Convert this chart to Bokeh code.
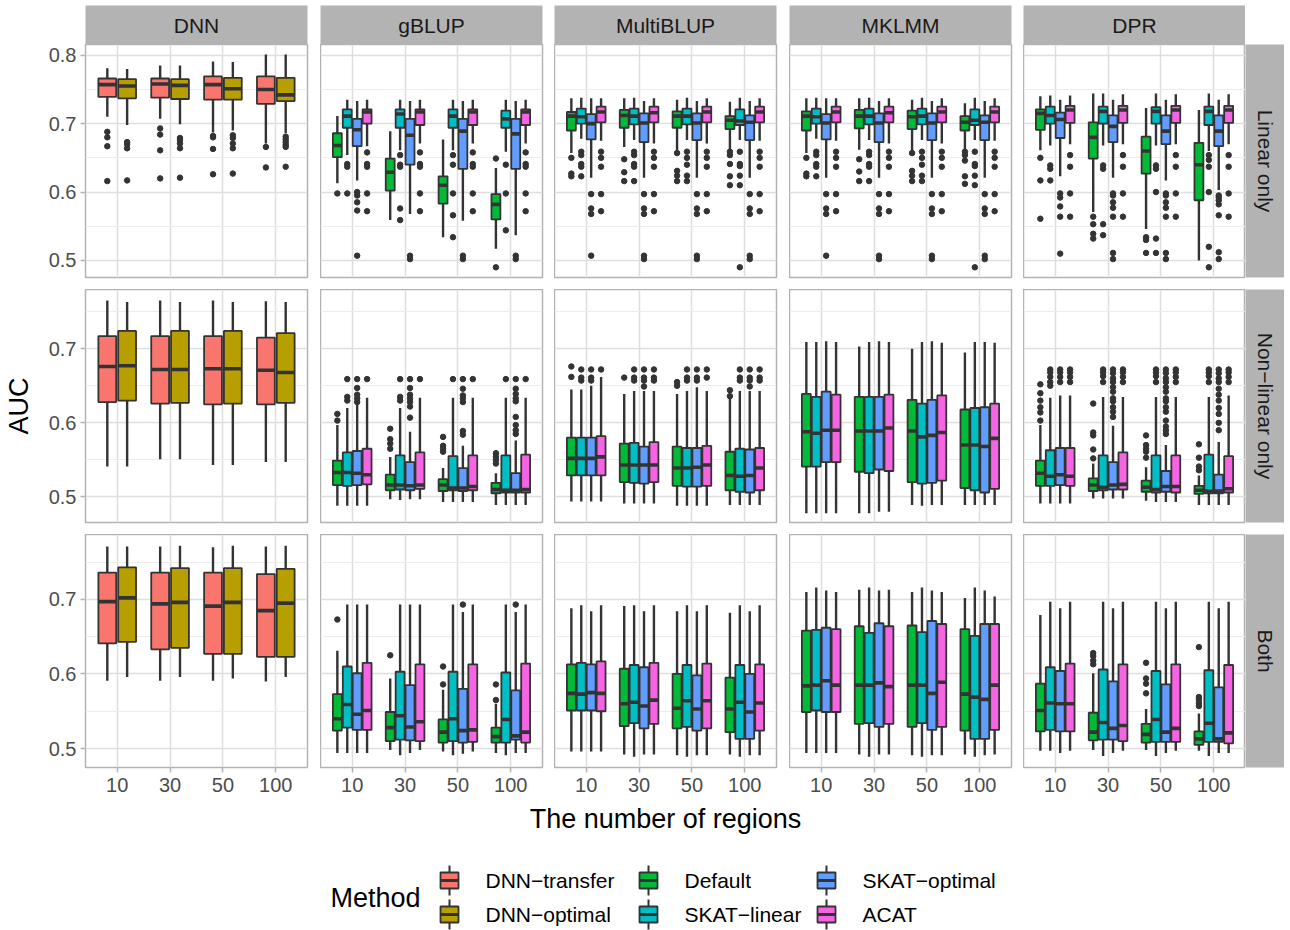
import math
from bokeh.plotting import figure
from bokeh.models import Range1d, FixedTicker, GridBox, Label, ColumnDataSource
from bokeh.layouts import column
from bokeh.core.properties import value
from bokeh.embed import file_html
from bokeh.resources import INLINE

FONT = "Liberation Sans"
MINUS = "\u2212"

# ---------------- categories / labels ----------------
REGIONS = ["10", "30", "50", "100"]
MODELS = ["DNN", "gBLUP", "MultiBLUP", "MKLMM", "DPR"]
SCENARIOS = ["Linear only", f"Non{MINUS}linear only", "Both"]
DNN_METHODS = [f"DNN{MINUS}transfer", f"DNN{MINUS}optimal"]
SKAT_METHODS = ["Default", f"SKAT{MINUS}linear", f"SKAT{MINUS}optimal", "ACAT"]
LEGEND_ORDER = DNN_METHODS + SKAT_METHODS
METHOD_COLORS = ["#F8766D", "#B79F00", "#00BA38", "#00BFC4", "#619CFF", "#F564E3"]
X_TITLE = "The number of regions"
Y_TITLE = "AUC"
LEGEND_TITLE = "Method"
Y_TICKS = [[0.5, 0.6, 0.7, 0.8], [0.5, 0.6, 0.7], [0.5, 0.6, 0.7]]
Y_MINOR = [[0.55, 0.65, 0.75], [0.55, 0.65, 0.75], [0.55, 0.65, 0.75]]
Y_LIMITS = [(0.4751, 0.8157), (0.4655, 0.7799), (0.4746, 0.7870)]

# ---------------- box statistics: (lower whisker, q1, median, q3, upper whisker) per region ----------------
# Row: Linear only
L_DNN_TRANSFER = [(0.710, 0.739, 0.757, 0.766, 0.781), (0.707, 0.738, 0.758, 0.766, 0.785), (0.687, 0.735, 0.757, 0.769, 0.791), (0.671, 0.729, 0.750, 0.769, 0.801)]
L_DNN_TRANSFER_OUT = [[0.688, 0.680, 0.667, 0.616], [0.693, 0.684, 0.661, 0.620], [0.682, 0.680, 0.663, 0.626], [0.666, 0.636]]
L_DNN_OPTIMAL = [(0.698, 0.737, 0.755, 0.765, 0.780), (0.699, 0.736, 0.756, 0.765, 0.785), (0.690, 0.735, 0.751, 0.767, 0.790), (0.686, 0.733, 0.742, 0.767, 0.801)]
L_DNN_OPTIMAL_OUT = [[0.673, 0.670, 0.664, 0.617], [0.679, 0.676, 0.671, 0.664, 0.621], [0.683, 0.679, 0.671, 0.664, 0.627], [0.681, 0.677, 0.673, 0.669, 0.666, 0.637]]

L_GBLUP_DEF = [(0.613, 0.651, 0.668, 0.686, 0.711), (0.559, 0.602, 0.629, 0.649, 0.689), (0.534, 0.583, 0.610, 0.623, 0.677), (0.517, 0.560, 0.582, 0.597, 0.635)]
L_GBLUP_DEF_OUT = [[0.598], [], [], [0.649, 0.490]]
L_GBLUP_LIN = [(0.654, 0.694, 0.711, 0.721, 0.735), (0.661, 0.694, 0.714, 0.721, 0.735), (0.661, 0.694, 0.711, 0.721, 0.735), (0.659, 0.694, 0.707, 0.719, 0.735)]
L_GBLUP_LIN_OUT = [[0.641, 0.637, 0.598], [0.654, 0.640, 0.637, 0.576, 0.559], [0.654, 0.640, 0.598, 0.566, 0.534], [0.640, 0.598, 0.544]]
L_GBLUP_OPT = [(0.617, 0.667, 0.691, 0.707, 0.733), (0.568, 0.640, 0.683, 0.707, 0.733), (0.558, 0.634, 0.689, 0.707, 0.733), (0.537, 0.634, 0.685, 0.707, 0.733)]
L_GBLUP_OPT_OUT = [[0.600, 0.595, 0.585, 0.573, 0.507], [0.507, 0.502], [0.507, 0.502], [0.507, 0.502]]
L_GBLUP_ACAT = [(0.667, 0.700, 0.717, 0.721, 0.735), (0.671, 0.698, 0.717, 0.721, 0.735), (0.671, 0.698, 0.717, 0.721, 0.735), (0.671, 0.698, 0.717, 0.721, 0.735)]
L_GBLUP_ACAT_OUT = [[0.658, 0.641, 0.637, 0.598, 0.572], [0.658, 0.641, 0.637, 0.598, 0.572], [0.658, 0.641, 0.637, 0.598, 0.572], [0.658, 0.641, 0.637, 0.598, 0.572]]

L_MULTI_DEF = [(0.657, 0.690, 0.711, 0.717, 0.737), (0.666, 0.694, 0.712, 0.720, 0.737), (0.661, 0.694, 0.711, 0.718, 0.735), (0.661, 0.692, 0.705, 0.711, 0.732)]
L_MULTI_DEF_OUT = [[0.650, 0.627, 0.623], [0.648, 0.629, 0.616], [0.657, 0.631, 0.624, 0.616], [0.659, 0.654, 0.641, 0.623, 0.610]]
L_MULTI_LIN = [(0.678, 0.700, 0.710, 0.722, 0.738), (0.676, 0.699, 0.711, 0.722, 0.738), (0.676, 0.699, 0.711, 0.722, 0.738), (0.676, 0.698, 0.704, 0.721, 0.738)]
L_MULTI_LIN_OUT = [[0.659, 0.654, 0.641, 0.637, 0.623], [0.659, 0.654, 0.641, 0.637, 0.616], [0.659, 0.650, 0.640, 0.624, 0.616], [0.659, 0.641, 0.638, 0.624, 0.610, 0.490]]
L_MULTI_OPT = [(0.621, 0.677, 0.700, 0.714, 0.737), (0.621, 0.673, 0.701, 0.715, 0.733), (0.621, 0.676, 0.701, 0.715, 0.733), (0.621, 0.676, 0.702, 0.712, 0.733)]
L_MULTI_OPT_OUT = [[0.597, 0.576, 0.568, 0.507], [0.597, 0.576, 0.568, 0.507, 0.502], [0.597, 0.576, 0.568, 0.507, 0.502], [0.597, 0.576, 0.568, 0.507, 0.502]]
L_MULTI_ACAT = [(0.675, 0.702, 0.717, 0.725, 0.737), (0.671, 0.702, 0.716, 0.725, 0.737), (0.671, 0.702, 0.717, 0.725, 0.737), (0.675, 0.702, 0.717, 0.725, 0.737)]
L_MULTI_ACAT_OUT = [[0.659, 0.650, 0.637, 0.597, 0.572], [0.659, 0.650, 0.637, 0.597, 0.572], [0.659, 0.650, 0.637, 0.597, 0.572], [0.659, 0.650, 0.637, 0.597, 0.572]]

L_MKLMM_DEF = [(0.657, 0.690, 0.711, 0.718, 0.737), (0.662, 0.693, 0.711, 0.720, 0.737), (0.660, 0.692, 0.710, 0.719, 0.735), (0.660, 0.690, 0.702, 0.711, 0.730)]
L_MKLMM_DEF_OUT = [[0.650, 0.627, 0.623], [0.648, 0.630, 0.616], [0.657, 0.631, 0.624, 0.616], [0.659, 0.654, 0.646, 0.623, 0.612]]
L_MKLMM_LIN = [(0.678, 0.700, 0.710, 0.722, 0.738), (0.676, 0.699, 0.711, 0.722, 0.738), (0.676, 0.699, 0.711, 0.722, 0.738), (0.676, 0.698, 0.705, 0.721, 0.738)]
L_MKLMM_LIN_OUT = [[0.659, 0.654, 0.641, 0.637, 0.623], [0.659, 0.654, 0.641, 0.637, 0.616], [0.659, 0.650, 0.640, 0.624, 0.616], [0.659, 0.641, 0.638, 0.624, 0.610, 0.490]]
L_MKLMM_OPT = [(0.621, 0.677, 0.701, 0.714, 0.737), (0.621, 0.673, 0.701, 0.715, 0.733), (0.621, 0.676, 0.701, 0.715, 0.733), (0.621, 0.676, 0.702, 0.712, 0.733)]
L_MKLMM_OPT_OUT = [[0.597, 0.576, 0.568, 0.507], [0.597, 0.576, 0.568, 0.507, 0.502], [0.597, 0.576, 0.568, 0.507, 0.502], [0.597, 0.576, 0.568, 0.507, 0.502]]
L_MKLMM_ACAT = [(0.675, 0.702, 0.717, 0.725, 0.737), (0.671, 0.702, 0.716, 0.725, 0.737), (0.671, 0.702, 0.717, 0.725, 0.737), (0.675, 0.702, 0.717, 0.725, 0.737)]
L_MKLMM_ACAT_OUT = [[0.659, 0.650, 0.637, 0.597, 0.572], [0.659, 0.650, 0.637, 0.597, 0.572], [0.659, 0.650, 0.637, 0.597, 0.572], [0.659, 0.650, 0.637, 0.597, 0.572]]

L_DPR_DEF = [(0.661, 0.691, 0.715, 0.721, 0.740), (0.571, 0.649, 0.680, 0.702, 0.744), (0.546, 0.627, 0.660, 0.681, 0.723), (0.500, 0.588, 0.640, 0.672, 0.720)]
L_DPR_DEF_OUT = [[0.650, 0.617, 0.561], [0.564, 0.553, 0.539, 0.532], [0.534, 0.530, 0.511], []]
L_DPR_LIN = [(0.668, 0.700, 0.712, 0.725, 0.741), (0.668, 0.700, 0.718, 0.725, 0.744), (0.668, 0.700, 0.718, 0.724, 0.744), (0.660, 0.698, 0.718, 0.725, 0.744)]
L_DPR_LIN_OUT = [[0.639, 0.634, 0.617], [0.639, 0.634, 0.553, 0.537], [0.639, 0.634, 0.600, 0.532, 0.511], [0.654, 0.647, 0.637, 0.600, 0.520, 0.490]]
L_DPR_OPT = [(0.623, 0.679, 0.706, 0.716, 0.735), (0.621, 0.673, 0.696, 0.712, 0.735), (0.617, 0.670, 0.689, 0.712, 0.735), (0.603, 0.667, 0.689, 0.712, 0.735)]
L_DPR_OPT_OUT = [[0.598, 0.592, 0.579, 0.564, 0.510], [0.598, 0.595, 0.585, 0.577, 0.564, 0.511, 0.502], [0.598, 0.595, 0.585, 0.577, 0.564, 0.511, 0.502], [0.595, 0.592, 0.588, 0.582, 0.566, 0.512, 0.502]]
L_DPR_ACAT = [(0.670, 0.701, 0.720, 0.726, 0.741), (0.670, 0.701, 0.720, 0.726, 0.743), (0.670, 0.701, 0.720, 0.726, 0.743), (0.670, 0.701, 0.720, 0.726, 0.743)]
L_DPR_ACAT_OUT = [[0.654, 0.637, 0.598, 0.564], [0.654, 0.637, 0.598, 0.564], [0.654, 0.637, 0.598, 0.564], [0.654, 0.637, 0.598, 0.564]]

# Row: Non-linear only
N_DNN_TRANSFER = [(0.541, 0.628, 0.676, 0.717, 0.765), (0.551, 0.626, 0.672, 0.717, 0.765), (0.543, 0.625, 0.673, 0.717, 0.765), (0.547, 0.625, 0.671, 0.715, 0.764)]
N_DNN_OPTIMAL = [(0.541, 0.630, 0.677, 0.724, 0.763), (0.551, 0.627, 0.672, 0.724, 0.763), (0.543, 0.626, 0.673, 0.724, 0.763), (0.547, 0.627, 0.668, 0.721, 0.763)]

N_GBLUP_DEF = [(0.488, 0.516, 0.533, 0.549, 0.597), (0.497, 0.509, 0.516, 0.530, 0.554), (0.493, 0.508, 0.516, 0.524, 0.539), (0.489, 0.505, 0.510, 0.519, 0.532)]
N_GBLUP_DEF_OUT = [[0.612, 0.603], [0.592, 0.578, 0.572, 0.565], [0.581, 0.569, 0.565, 0.561], [0.559, 0.554, 0.550, 0.545]]
N_GBLUP_LIN = [(0.488, 0.515, 0.533, 0.560, 0.620), (0.496, 0.510, 0.516, 0.556, 0.620), (0.493, 0.509, 0.512, 0.555, 0.634), (0.489, 0.506, 0.509, 0.556, 0.634)]
N_GBLUP_LIN_OUT = [[0.659, 0.635, 0.630], [0.659, 0.635, 0.630], [0.659], [0.659]]
N_GBLUP_OPT = [(0.488, 0.516, 0.532, 0.562, 0.625), (0.497, 0.509, 0.515, 0.547, 0.588), (0.493, 0.508, 0.512, 0.539, 0.569), (0.489, 0.506, 0.509, 0.532, 0.576)]
N_GBLUP_OPT_OUT = [[0.659, 0.647, 0.638, 0.633, 0.628], [0.659, 0.647, 0.638, 0.633, 0.628, 0.622, 0.607], [0.659, 0.646, 0.637, 0.633, 0.628, 0.589, 0.584], [0.659, 0.646, 0.639, 0.633, 0.629, 0.608, 0.597, 0.590, 0.585]]
N_GBLUP_ACAT = [(0.488, 0.517, 0.530, 0.565, 0.634), (0.497, 0.511, 0.516, 0.560, 0.634), (0.493, 0.509, 0.514, 0.556, 0.634), (0.489, 0.506, 0.510, 0.557, 0.634)]
N_GBLUP_ACAT_OUT = [[0.659], [0.659], [0.659], [0.659]]

N_MULTI_DEF = [(0.494, 0.529, 0.552, 0.580, 0.645), (0.491, 0.520, 0.543, 0.572, 0.639), (0.488, 0.515, 0.539, 0.568, 0.639), (0.489, 0.509, 0.529, 0.561, 0.633)]
N_MULTI_DEF_OUT = [[0.676, 0.662], [0.661], [0.655, 0.650], [0.644, 0.636]]
N_MULTI_LIN = [(0.494, 0.529, 0.552, 0.580, 0.645), (0.491, 0.519, 0.543, 0.573, 0.643), (0.488, 0.514, 0.539, 0.566, 0.643), (0.489, 0.507, 0.528, 0.565, 0.643)]
N_MULTI_LIN_OUT = [[0.672, 0.661, 0.657], [0.672, 0.661, 0.657], [0.672, 0.661, 0.657], [0.672, 0.661, 0.657]]
N_MULTI_OPT = [(0.494, 0.529, 0.552, 0.580, 0.650), (0.491, 0.518, 0.543, 0.568, 0.643), (0.488, 0.514, 0.540, 0.566, 0.648), (0.489, 0.506, 0.529, 0.564, 0.643)]
N_MULTI_OPT_OUT = [[0.672, 0.661, 0.657], [0.672, 0.661, 0.657, 0.649], [0.672, 0.661, 0.657], [0.672, 0.661, 0.657, 0.649]]
N_MULTI_ACAT = [(0.494, 0.529, 0.554, 0.582, 0.662), (0.491, 0.520, 0.543, 0.574, 0.643), (0.488, 0.515, 0.543, 0.569, 0.643), (0.489, 0.509, 0.539, 0.566, 0.643)]
N_MULTI_ACAT_OUT = [[0.672], [0.672, 0.661, 0.657], [0.672, 0.661], [0.672, 0.661, 0.657]]

N_MKLMM_DEF = [(0.478, 0.541, 0.588, 0.639, 0.709), (0.478, 0.534, 0.589, 0.635, 0.703), (0.489, 0.520, 0.589, 0.631, 0.700), (0.489, 0.512, 0.570, 0.618, 0.695)]
N_MKLMM_LIN = [(0.478, 0.541, 0.586, 0.635, 0.709), (0.478, 0.532, 0.589, 0.635, 0.709), (0.488, 0.518, 0.581, 0.626, 0.709), (0.489, 0.509, 0.570, 0.620, 0.709)]
N_MKLMM_OPT = [(0.478, 0.547, 0.590, 0.642, 0.710), (0.480, 0.537, 0.589, 0.635, 0.710), (0.489, 0.519, 0.583, 0.631, 0.710), (0.489, 0.506, 0.568, 0.621, 0.709)]
N_MKLMM_ACAT = [(0.478, 0.547, 0.590, 0.638, 0.709), (0.480, 0.535, 0.593, 0.638, 0.709), (0.489, 0.522, 0.587, 0.637, 0.708), (0.489, 0.511, 0.579, 0.626, 0.708)]

N_DPR_DEF = [(0.491, 0.515, 0.532, 0.549, 0.597), (0.498, 0.508, 0.516, 0.525, 0.545), (0.495, 0.507, 0.513, 0.522, 0.540), (0.489, 0.504, 0.509, 0.515, 0.529)]
N_DPR_DEF_OUT = [[0.652, 0.640, 0.630, 0.621, 0.614, 0.603], [0.626, 0.587, 0.583, 0.564, 0.552], [0.583, 0.570, 0.565, 0.561, 0.553], [0.571, 0.553, 0.541, 0.536]]
N_DPR_LIN = [(0.491, 0.515, 0.528, 0.563, 0.634), (0.498, 0.509, 0.513, 0.556, 0.635), (0.493, 0.506, 0.510, 0.556, 0.635), (0.489, 0.505, 0.508, 0.557, 0.635)]
N_DPR_LIN_OUT = [[0.672, 0.668, 0.662, 0.655, 0.650], [0.672, 0.668, 0.663, 0.655], [0.672, 0.668, 0.663, 0.655], [0.672, 0.668, 0.663, 0.655]]
N_DPR_OPT = [(0.491, 0.516, 0.530, 0.566, 0.637), (0.498, 0.510, 0.516, 0.547, 0.596), (0.493, 0.507, 0.514, 0.535, 0.570), (0.489, 0.505, 0.508, 0.530, 0.574)]
N_DPR_OPT_OUT = [[0.672, 0.668, 0.662, 0.655], [0.672, 0.667, 0.660, 0.655, 0.648, 0.642, 0.633, 0.629, 0.621, 0.615, 0.608], [0.672, 0.667, 0.660, 0.655, 0.648, 0.642, 0.633, 0.629, 0.621, 0.615, 0.603, 0.595, 0.590, 0.585], [0.672, 0.667, 0.660, 0.655, 0.646, 0.638, 0.630, 0.620, 0.612, 0.600, 0.590]]
N_DPR_ACAT = [(0.491, 0.515, 0.528, 0.566, 0.637), (0.498, 0.510, 0.517, 0.560, 0.635), (0.493, 0.506, 0.514, 0.556, 0.635), (0.489, 0.506, 0.511, 0.555, 0.637)]
N_DPR_ACAT_OUT = [[0.672, 0.668, 0.662, 0.655], [0.672, 0.668, 0.662, 0.655], [0.672, 0.668, 0.662, 0.655], [0.672, 0.668, 0.662, 0.655]]

# Row: Both
B_DNN_TRANSFER = [(0.591, 0.641, 0.697, 0.736, 0.771), (0.591, 0.633, 0.694, 0.736, 0.771), (0.591, 0.627, 0.691, 0.736, 0.770), (0.590, 0.623, 0.685, 0.734, 0.771)]
B_DNN_OPTIMAL = [(0.596, 0.643, 0.702, 0.743, 0.771), (0.596, 0.635, 0.696, 0.742, 0.772), (0.594, 0.627, 0.696, 0.742, 0.772), (0.596, 0.623, 0.695, 0.741, 0.772)]

B_GBLUP_DEF = [(0.494, 0.524, 0.540, 0.573, 0.631), (0.498, 0.510, 0.528, 0.549, 0.594), (0.496, 0.508, 0.522, 0.539, 0.579), (0.494, 0.508, 0.516, 0.528, 0.560)]
B_GBLUP_DEF_OUT = [[0.673], [0.625], [0.610, 0.586], [0.586, 0.565]]
B_GBLUP_LIN = [(0.494, 0.528, 0.559, 0.610, 0.693), (0.491, 0.512, 0.544, 0.603, 0.693), (0.491, 0.510, 0.540, 0.603, 0.693), (0.491, 0.508, 0.539, 0.602, 0.693)]
B_GBLUP_OPT = [(0.494, 0.525, 0.546, 0.601, 0.693), (0.494, 0.511, 0.529, 0.585, 0.693), (0.493, 0.508, 0.524, 0.580, 0.683), (0.494, 0.512, 0.517, 0.578, 0.683)]
B_GBLUP_OPT_OUT = [[], [], [0.693], [0.693]]
B_GBLUP_ACAT = [(0.494, 0.525, 0.551, 0.615, 0.693), (0.498, 0.510, 0.536, 0.613, 0.693), (0.496, 0.509, 0.525, 0.613, 0.693), (0.494, 0.508, 0.522, 0.614, 0.693)]

B_MULTI_DEF = [(0.496, 0.551, 0.574, 0.613, 0.688), (0.492, 0.530, 0.560, 0.607, 0.691), (0.491, 0.527, 0.554, 0.600, 0.684), (0.492, 0.522, 0.553, 0.595, 0.682)]
B_MULTI_LIN = [(0.496, 0.551, 0.573, 0.615, 0.692), (0.489, 0.534, 0.562, 0.612, 0.692), (0.489, 0.529, 0.564, 0.612, 0.692), (0.489, 0.513, 0.562, 0.612, 0.692)]
B_MULTI_OPT = [(0.496, 0.551, 0.575, 0.613, 0.684), (0.492, 0.527, 0.557, 0.609, 0.684), (0.491, 0.524, 0.553, 0.598, 0.684), (0.491, 0.513, 0.549, 0.600, 0.684)]
B_MULTI_ACAT = [(0.496, 0.550, 0.574, 0.617, 0.692), (0.492, 0.533, 0.565, 0.615, 0.692), (0.491, 0.527, 0.564, 0.614, 0.692), (0.491, 0.524, 0.561, 0.613, 0.692)]

B_MKLMM_DEF = [(0.494, 0.549, 0.584, 0.658, 0.710), (0.492, 0.533, 0.585, 0.664, 0.713), (0.491, 0.529, 0.585, 0.665, 0.710), (0.492, 0.524, 0.573, 0.660, 0.702)]
B_MKLMM_LIN = [(0.494, 0.551, 0.585, 0.659, 0.716), (0.489, 0.534, 0.585, 0.655, 0.716), (0.489, 0.534, 0.585, 0.656, 0.716), (0.489, 0.513, 0.569, 0.651, 0.716)]
B_MKLMM_OPT = [(0.494, 0.549, 0.591, 0.662, 0.712), (0.492, 0.529, 0.588, 0.668, 0.712), (0.491, 0.525, 0.574, 0.671, 0.712), (0.491, 0.513, 0.566, 0.667, 0.712)]
B_MKLMM_ACAT = [(0.494, 0.549, 0.585, 0.660, 0.710), (0.492, 0.533, 0.583, 0.664, 0.713), (0.491, 0.529, 0.589, 0.667, 0.710), (0.492, 0.525, 0.585, 0.667, 0.704)]

B_DPR_DEF = [(0.497, 0.523, 0.551, 0.587, 0.679), (0.498, 0.511, 0.522, 0.548, 0.601), (0.498, 0.508, 0.519, 0.533, 0.553), (0.497, 0.505, 0.513, 0.523, 0.547)]
B_DPR_DEF_OUT = [[], [0.628, 0.624, 0.618, 0.613], [0.615, 0.594, 0.587, 0.574], [0.636, 0.569, 0.566, 0.561, 0.557]]
B_DPR_LIN = [(0.497, 0.525, 0.561, 0.609, 0.697), (0.490, 0.512, 0.535, 0.606, 0.697), (0.490, 0.509, 0.539, 0.604, 0.697), (0.490, 0.509, 0.534, 0.605, 0.697)]
B_DPR_OPT = [(0.494, 0.523, 0.560, 0.604, 0.688), (0.494, 0.512, 0.527, 0.590, 0.688), (0.494, 0.509, 0.522, 0.586, 0.688), (0.494, 0.509, 0.513, 0.582, 0.688)]
B_DPR_ACAT = [(0.497, 0.523, 0.560, 0.614, 0.697), (0.497, 0.510, 0.531, 0.613, 0.697), (0.497, 0.509, 0.527, 0.613, 0.697), (0.494, 0.507, 0.521, 0.612, 0.697)]

NONE4 = [[], [], [], []]

# table of panels: (row, col) -> list of (stats, outliers), in method order
PANELS = {
    (0, 0): [(L_DNN_TRANSFER, L_DNN_TRANSFER_OUT), (L_DNN_OPTIMAL, L_DNN_OPTIMAL_OUT)],
    (0, 1): [(L_GBLUP_DEF, L_GBLUP_DEF_OUT), (L_GBLUP_LIN, L_GBLUP_LIN_OUT), (L_GBLUP_OPT, L_GBLUP_OPT_OUT), (L_GBLUP_ACAT, L_GBLUP_ACAT_OUT)],
    (0, 2): [(L_MULTI_DEF, L_MULTI_DEF_OUT), (L_MULTI_LIN, L_MULTI_LIN_OUT), (L_MULTI_OPT, L_MULTI_OPT_OUT), (L_MULTI_ACAT, L_MULTI_ACAT_OUT)],
    (0, 3): [(L_MKLMM_DEF, L_MKLMM_DEF_OUT), (L_MKLMM_LIN, L_MKLMM_LIN_OUT), (L_MKLMM_OPT, L_MKLMM_OPT_OUT), (L_MKLMM_ACAT, L_MKLMM_ACAT_OUT)],
    (0, 4): [(L_DPR_DEF, L_DPR_DEF_OUT), (L_DPR_LIN, L_DPR_LIN_OUT), (L_DPR_OPT, L_DPR_OPT_OUT), (L_DPR_ACAT, L_DPR_ACAT_OUT)],
    (1, 0): [(N_DNN_TRANSFER, NONE4), (N_DNN_OPTIMAL, NONE4)],
    (1, 1): [(N_GBLUP_DEF, N_GBLUP_DEF_OUT), (N_GBLUP_LIN, N_GBLUP_LIN_OUT), (N_GBLUP_OPT, N_GBLUP_OPT_OUT), (N_GBLUP_ACAT, N_GBLUP_ACAT_OUT)],
    (1, 2): [(N_MULTI_DEF, N_MULTI_DEF_OUT), (N_MULTI_LIN, N_MULTI_LIN_OUT), (N_MULTI_OPT, N_MULTI_OPT_OUT), (N_MULTI_ACAT, N_MULTI_ACAT_OUT)],
    (1, 3): [(N_MKLMM_DEF, NONE4), (N_MKLMM_LIN, NONE4), (N_MKLMM_OPT, NONE4), (N_MKLMM_ACAT, NONE4)],
    (1, 4): [(N_DPR_DEF, N_DPR_DEF_OUT), (N_DPR_LIN, N_DPR_LIN_OUT), (N_DPR_OPT, N_DPR_OPT_OUT), (N_DPR_ACAT, N_DPR_ACAT_OUT)],
    (2, 0): [(B_DNN_TRANSFER, NONE4), (B_DNN_OPTIMAL, NONE4)],
    (2, 1): [(B_GBLUP_DEF, B_GBLUP_DEF_OUT), (B_GBLUP_LIN, NONE4), (B_GBLUP_OPT, B_GBLUP_OPT_OUT), (B_GBLUP_ACAT, NONE4)],
    (2, 2): [(B_MULTI_DEF, NONE4), (B_MULTI_LIN, NONE4), (B_MULTI_OPT, NONE4), (B_MULTI_ACAT, NONE4)],
    (2, 3): [(B_MKLMM_DEF, NONE4), (B_MKLMM_LIN, NONE4), (B_MKLMM_OPT, NONE4), (B_MKLMM_ACAT, NONE4)],
    (2, 4): [(B_DPR_DEF, B_DPR_DEF_OUT), (B_DPR_LIN, NONE4), (B_DPR_OPT, NONE4), (B_DPR_ACAT, NONE4)],
}

# ---------------- layout / style ----------------
PANEL_W = 222
PANEL_H = 233
STRIP_TOP_PAD = 5
STRIP_TOP_H = 39
STRIP_RIGHT_W = 39
LEFT_BORDER = [85, 0, 0, 0, 0]
RIGHT_GAP = [13, 12, 13, 12, 0]
BOTTOM_GAP = [12, 12, 33]
STRIP_BG = "#B3B3B3"
BORDER = "#B3B3B3"
GRID_MAJOR = "#DEDEDE"
GRID_MINOR = "#ECECEC"
DARK = "#333333"
COLOR_OF = dict(zip(LEGEND_ORDER, METHOD_COLORS))

TOTAL_W = sum(LEFT_BORDER) + 5 * PANEL_W + sum(RIGHT_GAP) + STRIP_RIGHT_W
GRID_H = STRIP_TOP_PAD + STRIP_TOP_H + 3 * PANEL_H + sum(BOTTOM_GAP)
PAGE_H = 930
FOOT_H = PAGE_H - GRID_H


def style_axes(p, r, c):
    xt = FixedTicker(ticks=[1, 2, 3, 4])
    yt = FixedTicker(ticks=Y_TICKS[r], minor_ticks=Y_MINOR[r])
    p.xaxis.ticker = xt
    p.yaxis.ticker = yt
    p.xgrid.ticker = xt
    p.ygrid.ticker = yt
    p.xgrid.grid_line_color = GRID_MAJOR
    p.xgrid.grid_line_width = 1.5
    p.ygrid.grid_line_color = GRID_MAJOR
    p.ygrid.grid_line_width = 1.5
    p.ygrid.minor_grid_line_color = GRID_MINOR
    p.ygrid.minor_grid_line_width = 1
    p.xaxis.major_label_overrides = {i + 1: lab for i, lab in enumerate(REGIONS)}
    for ax in (p.xaxis[0], p.yaxis[0]):
        ax.axis_line_color = None
        ax.major_tick_line_color = BORDER
        ax.major_tick_line_width = 1.5
        ax.major_tick_out = 5
        ax.major_tick_in = 0
        ax.minor_tick_line_color = None
        ax.major_label_text_font = FONT
        ax.major_label_text_font_size = "20px"
        ax.major_label_text_color = "#4D4D4D"
        ax.axis_label_text_font = FONT
        ax.axis_label_text_font_size = "27px"
        ax.axis_label_text_font_style = "normal"
        ax.axis_label_text_color = "#000000"
    p.xaxis.major_label_standoff = 5
    p.yaxis.major_label_standoff = 4
    p.xaxis.visible = (r == 2)
    p.yaxis.visible = (c == 0)
    if r == 1 and c == 0:
        p.yaxis.axis_label = Y_TITLE
        p.yaxis.axis_label_standoff = 12


def make_panel(r, c):
    p = figure(width=LEFT_BORDER[c] + PANEL_W + RIGHT_GAP[c], height=PANEL_H + BOTTOM_GAP[r],
               x_range=Range1d(0.4, 4.6), y_range=Range1d(*Y_LIMITS[r]),
               output_backend="svg", toolbar_location=None,
               min_border_left=LEFT_BORDER[c], min_border_right=RIGHT_GAP[c],
               min_border_top=0, min_border_bottom=BOTTOM_GAP[r])
    p.background_fill_color = "white"
    p.border_fill_color = "white"
    p.outline_line_color = BORDER
    p.outline_line_width = 1.5
    style_axes(p, r, c)

    methods = DNN_METHODS if c == 0 else SKAT_METHODS
    n = len(methods)
    step = 0.75 / n
    bw = step * 0.9
    box = dict(x=[], xl=[], xr=[], lo=[], q1=[], med=[], q3=[], hi=[], color=[])
    pts = dict(x=[], y=[])
    for i, (name, (stats, outs)) in enumerate(zip(methods, PANELS[(r, c)])):
        for g, (lo, q1, med, q3, hi) in enumerate(stats):
            x = g + 1 + (i - (n - 1) / 2) * step
            box["x"].append(x)
            box["xl"].append(x - bw / 2)
            box["xr"].append(x + bw / 2)
            box["lo"].append(lo)
            box["q1"].append(q1)
            box["med"].append(med)
            box["q3"].append(q3)
            box["hi"].append(hi)
            box["color"].append(COLOR_OF[name])
            for y in outs[g]:
                pts["x"].append(x)
                pts["y"].append(y)
    src = ColumnDataSource(box)
    p.scatter(x="x", y="y", source=ColumnDataSource(pts), size=5.5, color=DARK)
    p.segment(x0="x", y0="lo", x1="x", y1="hi", source=src, line_color=DARK, line_width=2.4)
    p.vbar(x="x", width=bw, bottom="q1", top="q3", source=src, fill_color="color",
           line_color=DARK, line_width=1.8)
    p.segment(x0="xl", y0="med", x1="xr", y1="med", source=src, line_color=DARK, line_width=3.6)
    return p


def blank(width, height, left=0, right=0, top=0, bottom=0):
    s = figure(width=width, height=height, x_range=Range1d(0, 1), y_range=Range1d(0, 1),
               output_backend="svg", toolbar_location=None,
               min_border_left=left, min_border_right=right, min_border_top=top, min_border_bottom=bottom)
    s.xaxis.visible = False
    s.yaxis.visible = False
    s.xgrid.visible = False
    s.ygrid.visible = False
    s.outline_line_color = None
    s.border_fill_color = "white"
    return s


def strip_top(c):
    s = blank(LEFT_BORDER[c] + PANEL_W + RIGHT_GAP[c], STRIP_TOP_PAD + STRIP_TOP_H,
              left=LEFT_BORDER[c], right=RIGHT_GAP[c], top=STRIP_TOP_PAD)
    s.background_fill_color = STRIP_BG
    s.add_layout(Label(x=0.5, y=0.5, text=MODELS[c], text_align="center", text_baseline="middle",
                       text_font=FONT, text_font_size="21px", text_color="#1A1A1A"))
    return s


def strip_right(r):
    s = blank(STRIP_RIGHT_W, PANEL_H + BOTTOM_GAP[r], bottom=BOTTOM_GAP[r])
    s.background_fill_color = STRIP_BG
    s.add_layout(Label(x=0.5, y=0.5, text=SCENARIOS[r], text_align="center", text_baseline="middle",
                       angle=-math.pi / 2, text_font=FONT, text_font_size="21px", text_color="#1A1A1A"))
    return s


def make_footer():
    # data units of this figure are page pixels (x from the left, y from the top)
    left = LEFT_BORDER[0]
    ft = figure(width=TOTAL_W, height=FOOT_H, x_range=Range1d(left, TOTAL_W),
                y_range=Range1d(PAGE_H, GRID_H), output_backend="svg", toolbar_location=None,
                min_border_left=left, min_border_right=0, min_border_top=0, min_border_bottom=0)
    ft.xaxis.visible = False
    ft.yaxis.visible = False
    ft.xgrid.visible = False
    ft.ygrid.visible = False
    ft.outline_line_color = None
    ft.border_fill_color = "white"
    ft.background_fill_color = "white"

    # x-axis title, centred under the panels
    panels_left = LEFT_BORDER[0]
    panels_right = TOTAL_W - STRIP_RIGHT_W
    ft.text(x=[(panels_left + panels_right) / 2], y=[818], text=[X_TITLE], text_font=value(FONT),
            text_font_size="27px", text_align="center", text_baseline="middle", text_color="#000000")

    # legend
    key_x = [449, 648, 826]
    row_y = [880, 914]
    d = dict(x=[], y=[], y0=[], y1=[], b=[], t=[], xl=[], xr=[], tx=[], color=[], label=[])
    for k, name in enumerate(LEGEND_ORDER):
        x = key_x[k // 2]
        y = row_y[k % 2]
        d["x"].append(x)
        d["y"].append(y)
        d["y0"].append(y - 15)
        d["y1"].append(y + 15)
        d["b"].append(y - 8)
        d["t"].append(y + 8)
        d["xl"].append(x - 9)
        d["xr"].append(x + 9)
        d["tx"].append(x + 36)
        d["color"].append(COLOR_OF[name])
        d["label"].append(name)
    src = ColumnDataSource(d)
    ft.segment(x0="x", y0="y0", x1="x", y1="y1", source=src, line_color=DARK, line_width=2)
    ft.vbar(x="x", width=18, bottom="b", top="t", source=src, fill_color="color", line_color=DARK, line_width=1.8)
    ft.segment(x0="xl", y0="y", x1="xr", y1="y", source=src, line_color=DARK, line_width=3)
    ft.text(x="tx", y="y", text="label", source=src, text_font=value(FONT), text_font_size="21px",
            text_baseline="middle", text_align="left", text_color="#000000")
    ft.text(x=[330], y=[897], text=[LEGEND_TITLE], text_font=value(FONT), text_font_size="27px",
            text_baseline="middle", text_align="left", text_color="#000000")
    return ft


children = []
for c in range(5):
    children.append((strip_top(c), 0, c))
for r in range(3):
    for c in range(5):
        children.append((make_panel(r, c), r + 1, c))
    children.append((strip_right(r), r + 1, 5))

grid = GridBox(children=children, spacing=0)
layout = column(grid, make_footer(), spacing=0)

with open("out.html", "w") as f:
    f.write(file_html(layout, INLINE, title="AUC by number of regions"))
